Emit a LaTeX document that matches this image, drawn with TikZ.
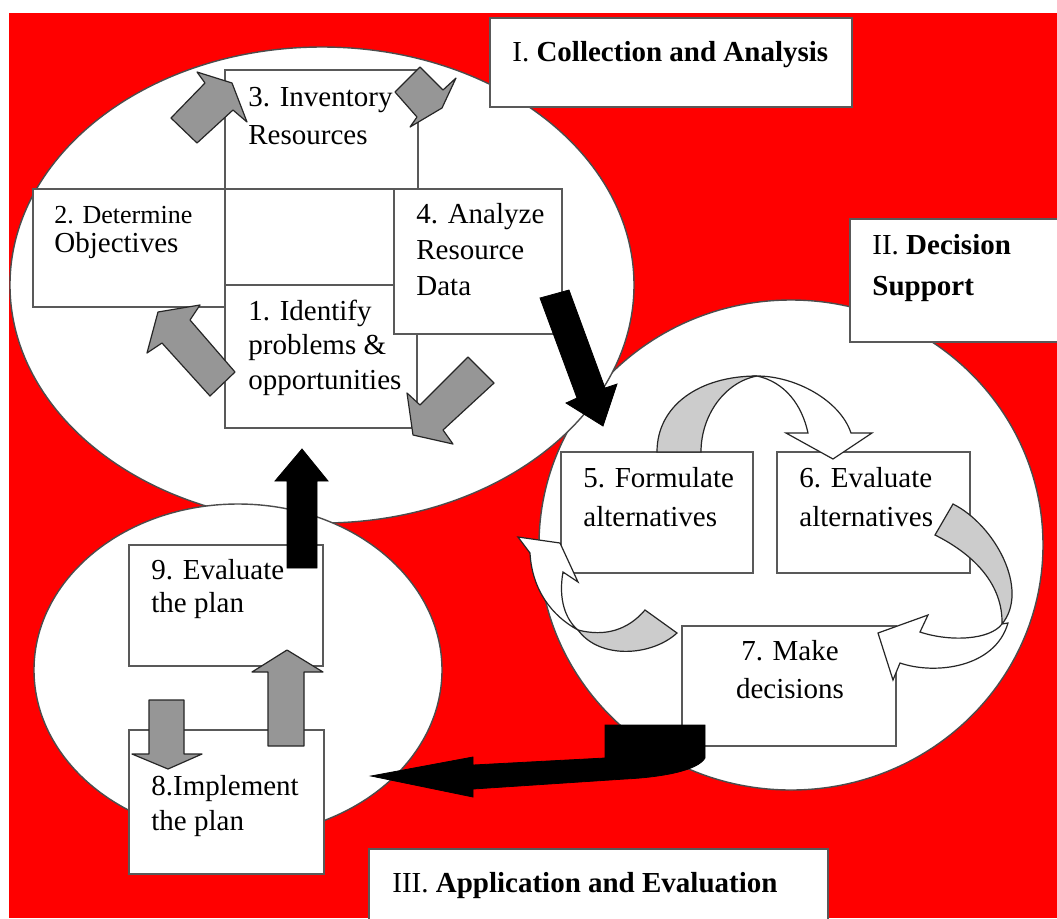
\documentclass[tikz,border=0pt]{standalone}
\usepackage{fontspec}
\setmainfont{Liberation Serif}
\definecolor{bgred}{RGB}{255,0,0}
\definecolor{blockgray}{RGB}{150,150,150}
\definecolor{bandgray}{RGB}{204,204,204}

\begin{document}
\begin{tikzpicture}[x=0.5pt, y=-0.5pt,
    zone/.style={draw=black!70, fill=white, line width=0.7pt},
    bx/.style={draw=black!65, fill=white, line width=1pt},
    garrow/.style={draw=black!85, fill=blockgray, line width=0.6pt, line join=round},
    karrow/.style={draw=black, fill=black, line width=0.4pt},
    band/.style={draw=black!85, fill=bandgray, line width=0.6pt},
    hollow/.style={draw=black!85, fill=white, line width=0.6pt},
    lbl/.style={anchor=base west, align=left, inner sep=0pt, font=\fontsize{14.5}{#1}\selectfont},
    lbl/.default=18pt
]
    % page and background
    \fill[white] (0,0) rectangle (1057,918);
    \fill[bgred] (9,13) rectangle (1057,918);
    \useasboundingbox (0,0) rectangle (1057,918);

    % the three phases
    \draw[zone] (791,545) ellipse (252 and 245);
    \draw[zone] (322,285) ellipse (312 and 238);
    \draw[zone] (238,670) ellipse (204 and 166);

    % phase titles
    \draw[bx] (490,18) rectangle (852,107);
    \draw[bx] (850,219) rectangle (1065,342);
    \draw[bx] (369,849) rectangle (828,925);

    % step boxes
    \draw[bx] (225,70) rectangle (418,189);   % 3
    \draw[bx] (33,189) rectangle (225,307);   % 2
    \draw[bx] (225,189) rectangle (394,285);
    \draw[bx] (225,285) rectangle (417,428);  % 1
    \draw[bx] (394,189) rectangle (562,334);  % 4
    \draw[bx] (561,452) rectangle (753,573);  % 5
    \draw[bx] (777,452) rectangle (970,573);  % 6
    \draw[bx] (682,626) rectangle (896,746);  % 7
    \draw[bx] (129,730) rectangle (324,874);  % 8
    \draw[bx] (129,545) rectangle (323,666);  % 9

    % block arrows of the first cycle
    \draw[garrow] (171,118) -- (197,143) -- (233,110) -- (247,122) -- (232,83) -- (197,72) -- (205,83) -- cycle;
    \draw[garrow] (395,92) -- (420,67) -- (443,90) -- (456,78) -- (442,108) -- (410,127) -- (417,117) -- cycle;
    \draw[garrow] (468,357) -- (494,383) -- (443,430) -- (453,444) -- (413,435) -- (407,393) -- (420,405) -- cycle;
    \draw[garrow] (235,372) -- (190,320) -- (200,305) -- (158,312) -- (147,353) -- (162,343) -- (210,396) -- cycle;

    % black arrows between the phases
    \draw[karrow] (540,298) -- (569,290) -- (605,388) -- (617,384) -- (603,426) -- (566,403) -- (577,398) -- cycle;
    \draw[karrow] (605,725) -- (705,725) -- (705,758) .. controls (698,770) and (665,777) .. (625,779)
        -- (473,789) -- (473,797) -- (371,776) -- (473,757) -- (473,765) -- (605,758) -- cycle;
    \draw[karrow] (287,568) -- (287,481) -- (275,481) -- (302,449) -- (328,481) -- (317,481) -- (317,568) -- cycle;

    % curved arrows of the second cycle
    \draw[band] (657,452) .. controls (657,405) and (700,376) .. (757,376)
        .. controls (725,382) and (701,415) .. (701,452) -- cycle;
    \draw[hollow] (757,376) .. controls (795,376) and (840,400) .. (851,433) -- (872,433) -- (833,459)
        -- (786,433) -- (808,433) .. controls (802,405) and (785,382) .. (757,376) -- cycle;
    \draw[band] (935,535) -- (953,504) .. controls (995,525) and (1030,590) .. (1002,624)
        .. controls (1003,585) and (975,555) .. (935,535) -- cycle;
    \draw[hollow] (1002,624) .. controls (990,640) and (950,642) .. (920,632) -- (928,615) -- (878,633)
        -- (893,680) -- (900,663) .. controls (935,675) and (995,668) .. (1008,623) -- cycle;
    \draw[hollow] (518,537) -- (560,543) -- (578,582) -- (563,572) .. controls (558,600) and (566,620) .. (578,630)
        .. controls (552,616) and (532,590) .. (530,553) -- cycle;
    \draw[band] (578,630) .. controls (605,637) and (628,630) .. (645,610) -- (677,633)
        .. controls (652,656) and (600,660) .. (578,630) -- cycle;

    % block arrows of the third cycle
    \draw[garrow] (149,700) -- (184,700) -- (184,754) -- (202,754) -- (168,769) -- (132,754) -- (149,754) -- cycle;
    \draw[garrow] (268,746) -- (268,672) -- (252,672) -- (287,650) -- (323,672) -- (304,672) -- (304,746) -- cycle;

    % labels (placed at the baseline of their last line)
    \node[lbl] (tI) at (512,61) {I. \textbf{Collection and Analysis}};
    \node[lbl=20.5pt] (tII) at (872,295) {II. \textbf{Decision}\\\textbf{Support}};
    \node[lbl] (tIII) at (392,892) {III. \textbf{Application and Evaluation}};
    \node[lbl=19pt] (t3) at (248,144) {3. Inventory\\Resources};
    \node[lbl=14.5pt] (t2) at (54,252) {{\fontsize{13}{15}\selectfont 2. Determine}\\Objectives};
    \node[lbl] (t4) at (416,295) {4. Analyze\\Resource\\Data};
    \node[lbl=17.25pt] (t1) at (248,389) {1. Identify\\problems \&\\opportunities};
    \node[lbl=19.5pt] (t5) at (583,526) {5. Formulate\\alternatives};
    \node[lbl=19.5pt] (t6) at (799,526) {6. Evaluate\\alternatives};
    \node[lbl=19pt, anchor=base, align=center] (t7) at (790,698) {7. Make\\decisions};
    \node[lbl=16.5pt] (t9) at (151,612) {9. Evaluate\\the plan};
    \node[lbl=17.5pt] (t8) at (151,830) {8.Implement\\the plan};
\end{tikzpicture}
\end{document}
